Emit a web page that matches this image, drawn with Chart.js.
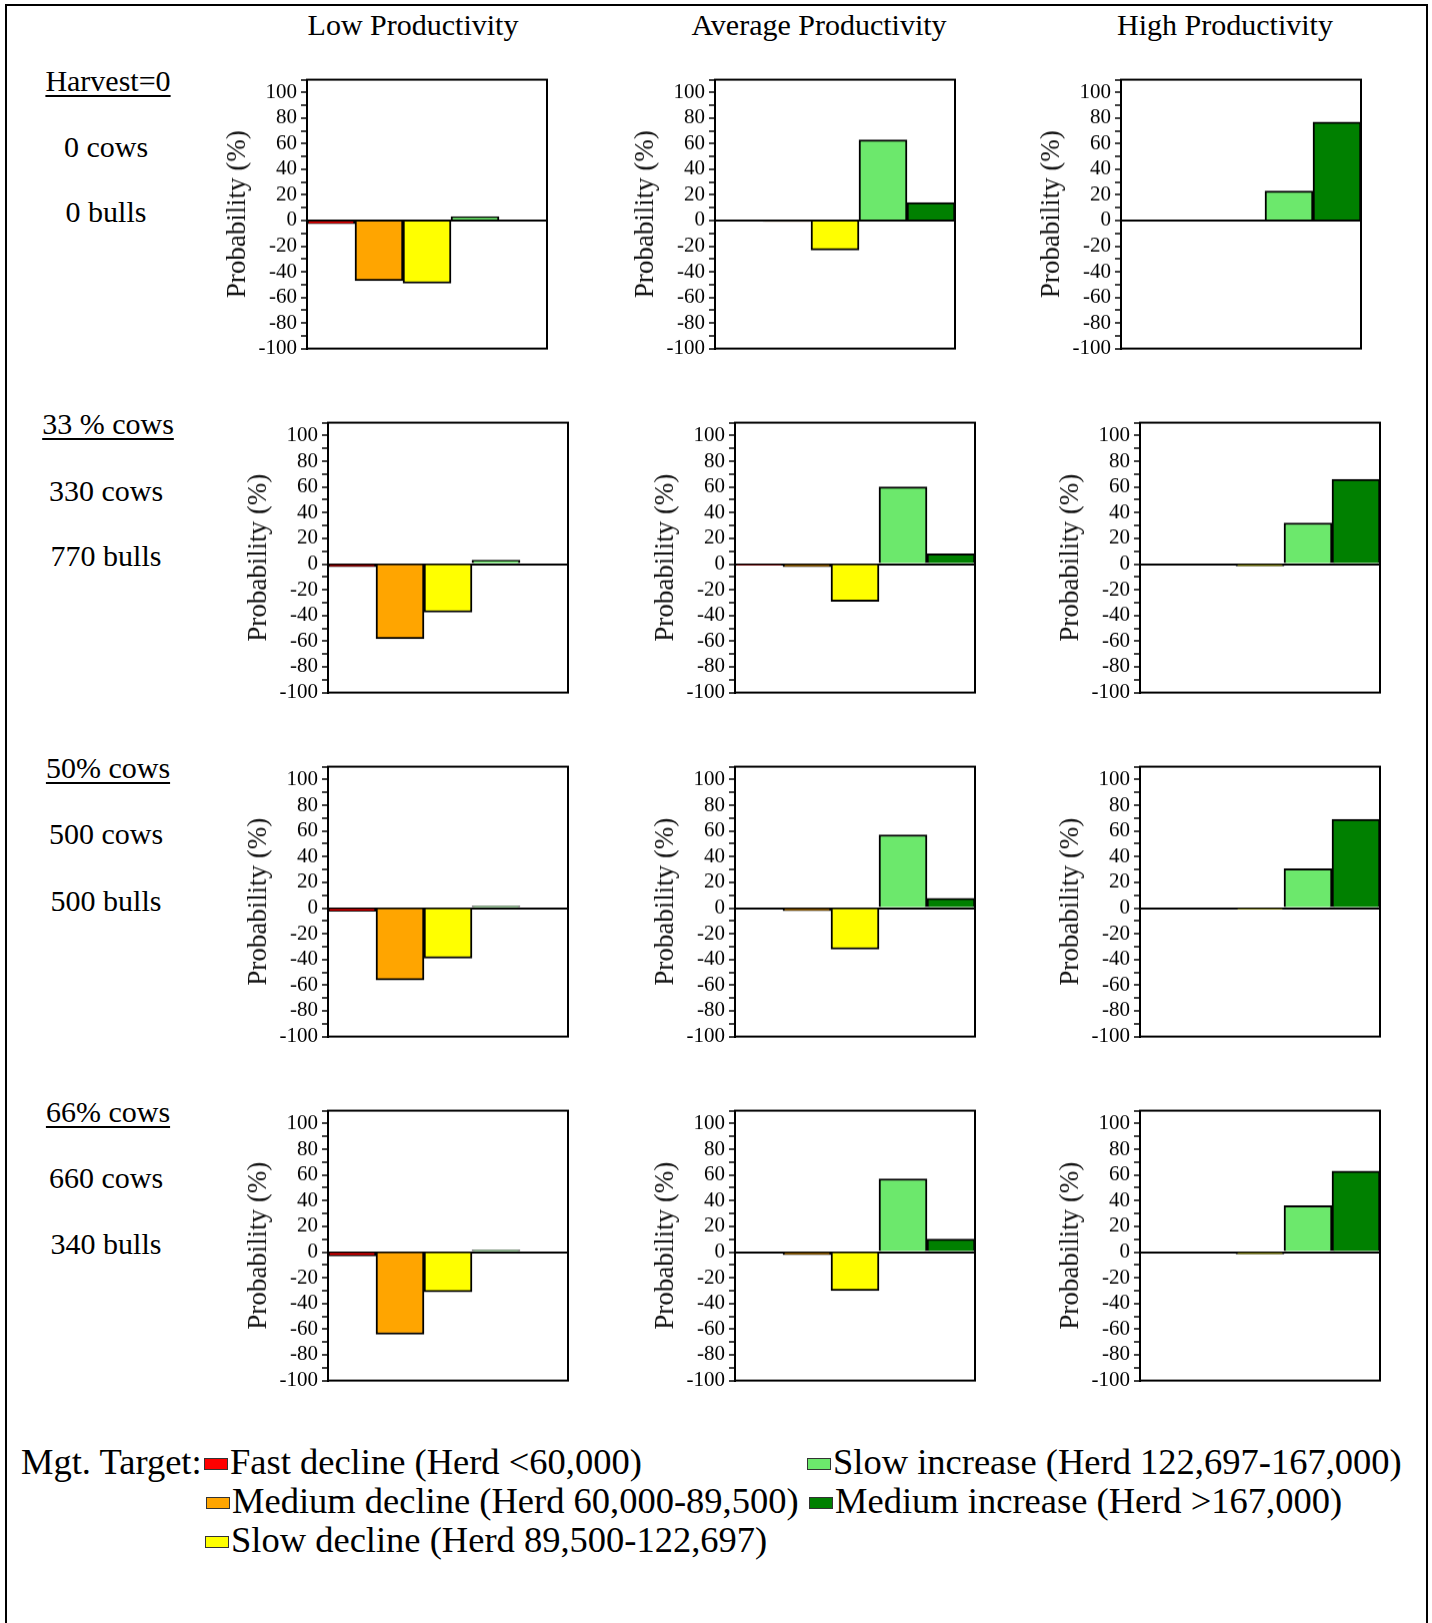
<!DOCTYPE html>
<html>
<head>
<meta charset="utf-8">
<script src="https://cdn.jsdelivr.net/npm/chart.js@4.4.1/dist/chart.umd.min.js"></script>
<style>
  html, body { margin: 0; padding: 0; background: #fff; }
  body { width: 1432px; height: 1623px; position: relative; overflow: hidden;
         font-family: "Liberation Serif", "Times New Roman", serif; color: #000; }
  #frame { position: absolute; left: 5px; top: 4px; width: 1419px; height: 1700px;
           border: 2px solid #000; border-bottom: none; }
  .lbl { position: absolute; transform: translate(-50%, -50%); white-space: nowrap; line-height: 1; }
  .head { text-decoration: underline; text-decoration-thickness: 2px; text-underline-offset: 4px; }
  .col { font-size: 30px; }
  .row { font-size: 30px; }
  .leg { position: absolute; white-space: nowrap; line-height: 1; font-size: 36.5px; transform: translateY(-50%); }
  .sw { position: absolute; width: 22px; height: 10px; border: 1px solid #333; transform: translateY(-50%); }
  canvas { position: absolute; }
</style>
</head>
<body>
<div id="frame"></div>
<script>
// ---- data ----
const categories = ['Fast decline (Herd <60,000)', 'Medium decline (Herd 60,000-89,500)',
  'Slow decline (Herd 89,500-122,697)', 'Slow increase (Herd 122,697-167,000)', 'Medium increase (Herd >167,000)'];
const columns = ['Low Productivity', 'Average Productivity', 'High Productivity'];
const rowHeads = ['Harvest=0', '33 % cows', '50% cows', '66% cows'];
const rowCows = ['0 cows', '330 cows', '500 cows', '660 cows'];
const rowBulls = ['0 bulls', '770 bulls', '500 bulls', '340 bulls'];

// one value per panel, row by row (Low, Average, High)
const fastDecline    = [-2.5, 0, 0,   -2, -0.5, 0,    -2.5, 0, 0,    -3, 0, 0];
const mediumDecline  = [-47, -0.8, 0, -58, -2, 0,     -56, -2, 0,    -64, -2, 0];
const slowDecline    = [-49, -23, 0,  -37.5, -29, -1.5, -39, -32, -0.5, -31, -30, -1.5];
const slowIncrease   = [3, 63, 23,    3, 60, 32,      1.5, 57, 30.5,  1.5, 57, 36];
const mediumIncrease = [0, 14, 77,    0, 8, 66,       0, 7.5, 69,     0, 10, 63];

const yMin = -100, yMax = 110, yStep = 10, yLabelStep = 20;
const yTitle = 'Probability (%)';
const legendTitle = 'Mgt. Target:';

const seriesColors = ['#ff0000', '#ffa500', '#ffff00', '#6ce86c', '#008000'];

// ---- layout ----
const plotTops = [80, 423, 767, 1111];
const plotBottoms = [348, 692, 1036, 1380];
const plotLefts = [[307, 715, 1121], [328, 735, 1140], [328, 735, 1140], [328, 735, 1140]];
const plotWidth = 240;
const YW = 89, PT = 16, PB = 16, PR = 5;

const boxPlugin = {
  id: 'box',
  afterDatasetsDraw(chart) {
    const { ctx, chartArea: a } = chart;
    ctx.save();
    ctx.strokeStyle = '#000';
    ctx.lineWidth = 2;
    ctx.strokeRect(a.left, a.top, a.right - a.left, a.bottom - a.top);
    ctx.restore();
  }
};

function addLabel(text, x, y, cls) {
  const d = document.createElement('div');
  d.className = 'lbl ' + cls;
  d.textContent = text;
  d.style.left = x + 'px';
  d.style.top = y + 'px';
  document.body.appendChild(d);
}

// column titles
const colCenters = [413, 819, 1225];
columns.forEach((c, i) => addLabel(c, colCenters[i], 25, 'col'));

// row labels
const rowY = [[81, 147, 212], [424, 491, 556], [768, 834, 901], [1112, 1178, 1244]];
for (let r = 0; r < 4; r++) {
  addLabel(rowHeads[r], 108, rowY[r][0], 'row head');
  addLabel(rowCows[r], 106, rowY[r][1], 'row');
  addLabel(rowBulls[r], 106, rowY[r][2], 'row');
}

// panels
for (let r = 0; r < 4; r++) {
  for (let c = 0; c < 3; c++) {
    const k = r * 3 + c;
    const vals = [fastDecline[k], mediumDecline[k], slowDecline[k], slowIncrease[k], mediumIncrease[k]];
    const plotH = plotBottoms[r] - plotTops[r];
    const cv = document.createElement('canvas');
    cv.width = YW + plotWidth + PR;
    cv.height = PT + plotH + PB;
    cv.style.width = cv.width + 'px';
    cv.style.height = cv.height + 'px';
    document.body.appendChild(cv);

    const chart = new Chart(cv, {
      type: 'bar',
      data: {
        labels: categories,
        datasets: [{
          data: vals,
          backgroundColor: seriesColors,
          borderColor: '#000',
          borderWidth: 2,
          barPercentage: 1,
          categoryPercentage: 1,
        }],
      },
      options: {
        responsive: false,
        maintainAspectRatio: false,
        animation: false,
        events: [],
        layout: { padding: { top: PT, bottom: PB, right: PR, left: 0 } },
        plugins: { legend: { display: false }, tooltip: { enabled: false } },
        scales: {
          x: { display: false },
          y: {
            min: yMin,
            max: yMax,
            afterFit(s) { s.width = YW; },
            ticks: {
              stepSize: yStep,
              autoSkip: false,
              includeBounds: false,
              padding: 4,
              color: '#000',
              font: { family: 'Liberation Serif', size: 21 },
              callback: v => (v % yLabelStep === 0 ? v : ''),
            },
            grid: {
              color: ctx => (ctx.tick && ctx.tick.value === 0 ? '#000' : 'rgba(0,0,0,0)'),
              lineWidth: 2,
              tickLength: 6,
              tickColor: '#000',
              tickWidth: 1.5,
            },
            border: { display: true, color: '#000', width: 2 },
            title: {
              display: true,
              text: yTitle,
              color: '#111',
              font: { family: 'Liberation Serif', size: 27 },
              padding: { top: 4, bottom: 4 },
            },
          },
        },
      },
      plugins: [boxPlugin],
    });

    // make the plot box land exactly on the reference position
    let ca = chart.chartArea;
    const dh = plotH - (ca.bottom - ca.top);
    const dw = plotWidth - (ca.right - ca.left);
    if (dh !== 0 || dw !== 0) chart.resize(cv.width + dw, cv.height + dh);
    ca = chart.chartArea;
    cv.style.left = (plotLefts[r][c] - ca.left) + 'px';
    cv.style.top = (plotTops[r] - ca.top) + 'px';
  }
}

// legend
const t = document.createElement('div');
t.className = 'leg';
t.textContent = legendTitle;
t.style.left = '21px';
t.style.top = '1462px';
document.body.appendChild(t);

const legendPos = [[204, 1462], [206, 1501], [205, 1540], [807, 1462], [809, 1501]];
categories.forEach((name, i) => {
  const [x, y] = legendPos[i];
  const sw = document.createElement('div');
  sw.className = 'sw';
  sw.style.left = x + 'px';
  sw.style.top = (y + 2) + 'px';
  sw.style.background = seriesColors[i];
  document.body.appendChild(sw);
  const tx = document.createElement('div');
  tx.className = 'leg';
  tx.textContent = name;
  tx.style.left = (x + 26) + 'px';
  tx.style.top = y + 'px';
  document.body.appendChild(tx);
});
</script>
</body>
</html>
